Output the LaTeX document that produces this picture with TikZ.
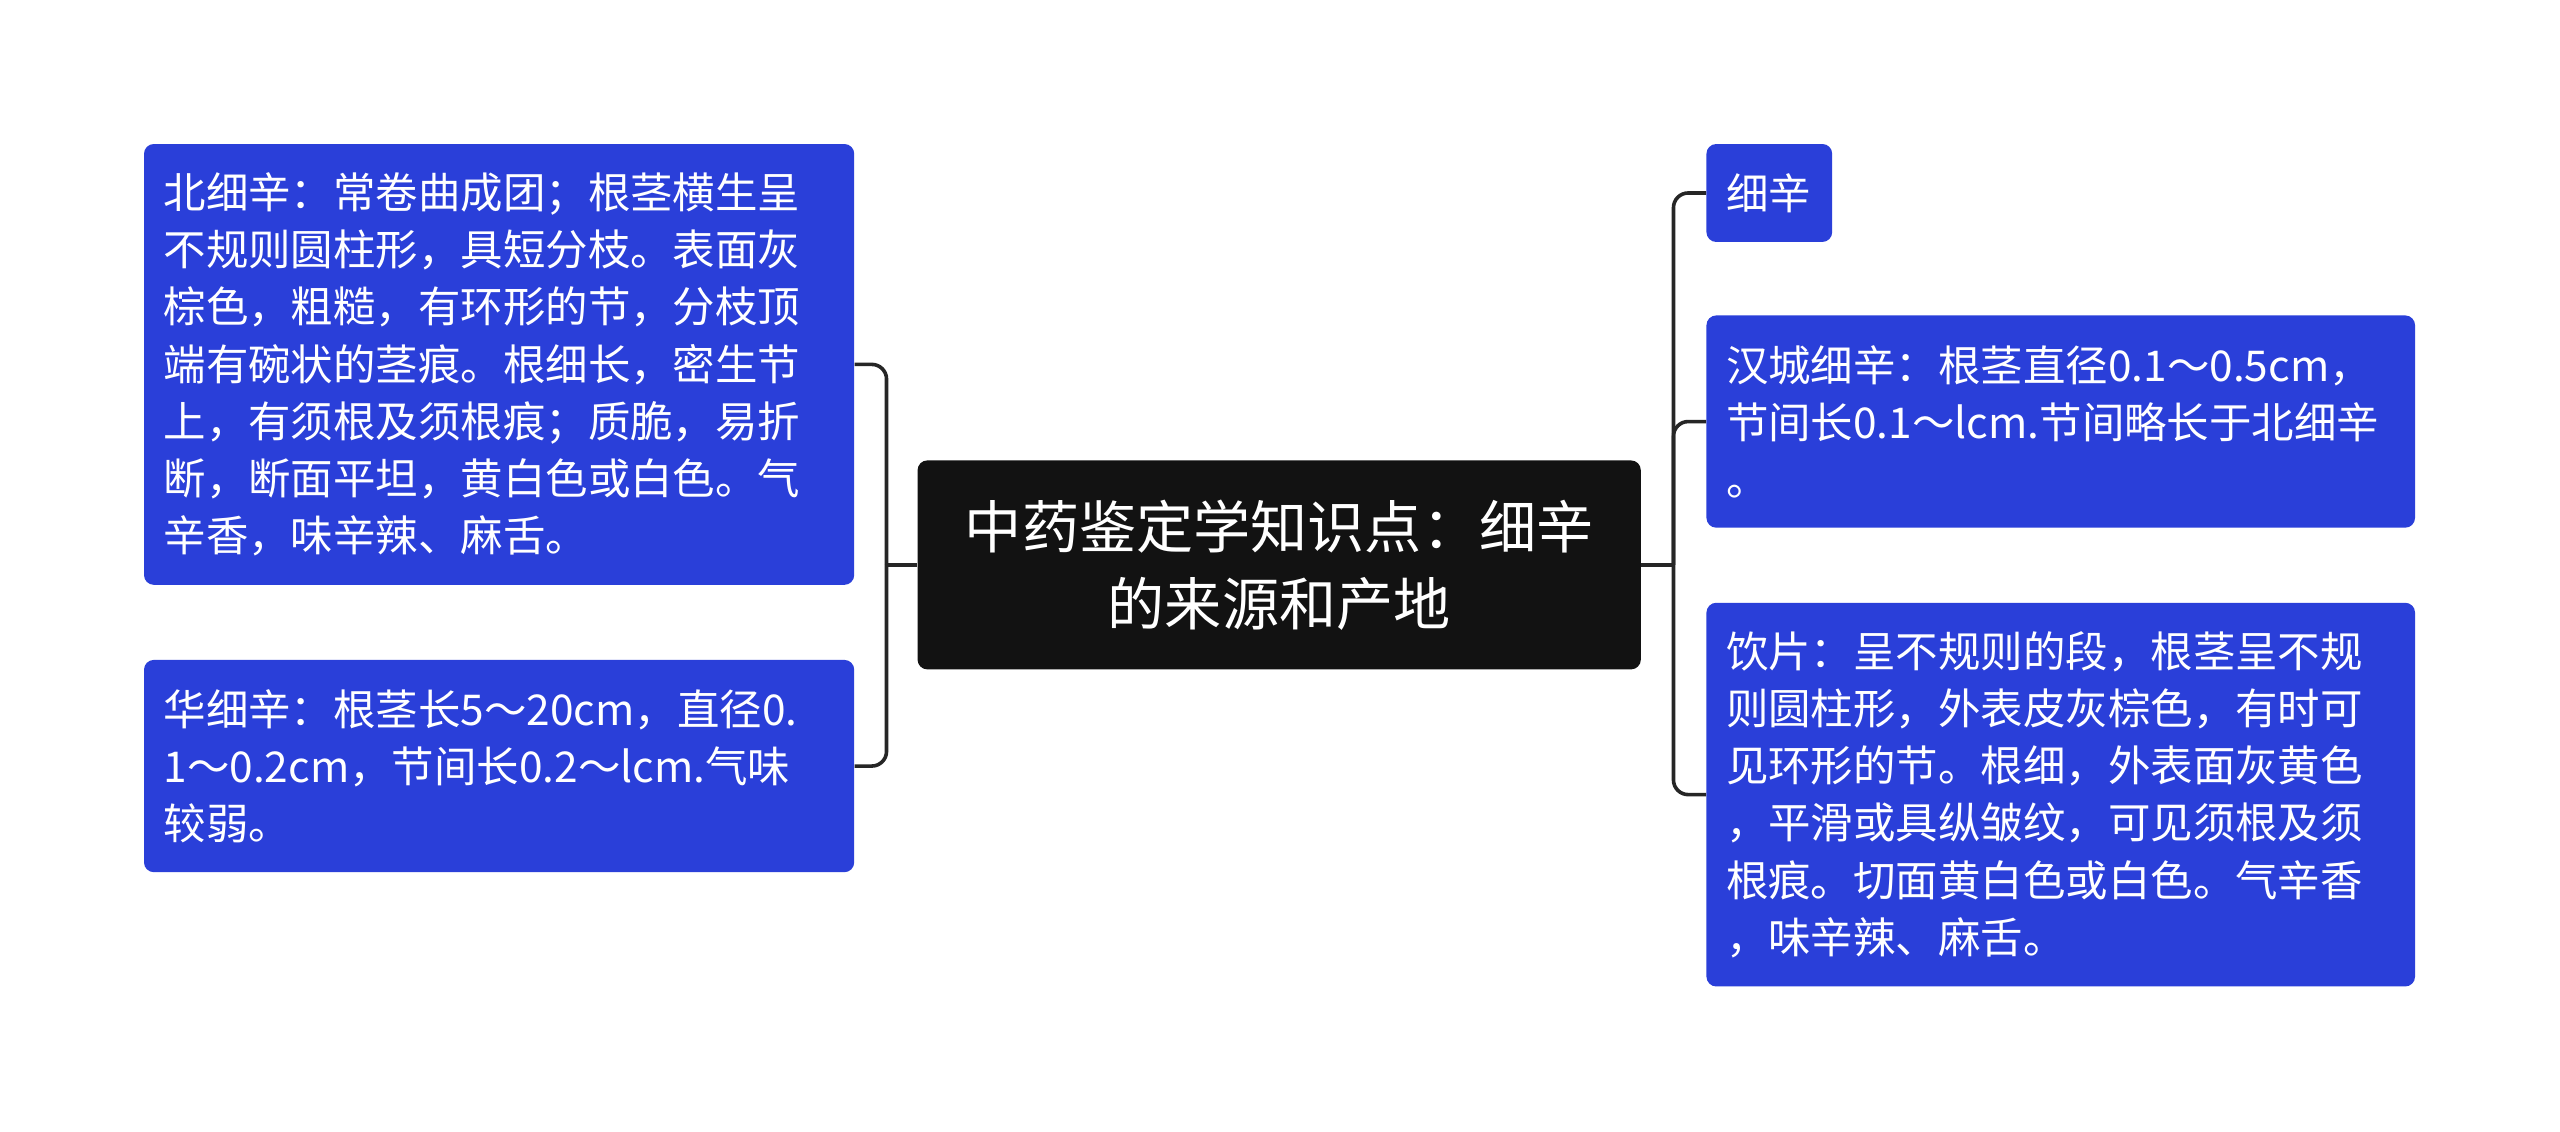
\documentclass[tikz,border=0pt]{standalone}
\usepackage{fontspec}
\setmainfont{Noto Sans CJK SC}
\begin{document}
\begin{tikzpicture}[x=1pt,y=-1pt,
  leaf/.style={draw=none,fill=leafblue,rounded corners=6pt,text=white,align=left,anchor=north west,inner sep=0pt,font=\fontsize{26}{35}\selectfont},
  conn/.style={draw=black!85,line width=2.2pt,rounded corners=9pt}]
\definecolor{leafblue}{HTML}{2A3FD9}
\useasboundingbox (0,0) rectangle (1568,693);
\fill[white] (0,0) rectangle (1568,693);
\node[leaf,minimum width=435pt,minimum height=270pt,text width=411pt] (l1) at (88,88) {北细辛：常卷曲成团；根茎横生呈\\不规则圆柱形，具短分枝。表面灰\\棕色，粗糙，有环形的节，分枝顶\\端有碗状的茎痕。根细长，密生节\\上，有须根及须根痕；质脆，易折\\断，断面平坦，黄白色或白色。气\\辛香，味辛辣、麻舌。};
\node[leaf,minimum width=435pt,minimum height=130pt,text width=411pt] (l2) at (88,404) {华细辛：根茎长5～20cm，直径0.\\1～0.2cm，节间长0.2～lcm.气味\\较弱。};
\node[fill=black!93,rounded corners=6pt,text=white,align=center,minimum width=443pt,minimum height=128pt,inner sep=0pt,font=\fontsize{35}{47}\selectfont] (c) at (783.5,346) {中药鉴定学知识点：细辛\\的来源和产地};
\node[leaf,minimum width=77pt,minimum height=60pt,text width=53pt] (r1) at (1045,88) {细辛};
\node[leaf,minimum width=434pt,minimum height=130pt,text width=410pt] (r2) at (1045,193) {汉城细辛：根茎直径0.1～0.5cm，\\节间长0.1～lcm.节间略长于北细辛\\。};
\node[leaf,minimum width=434pt,minimum height=235pt,text width=410pt] (r3) at (1045,369) {饮片：呈不规则的段，根茎呈不规\\则圆柱形，外表皮灰棕色，有时可\\见环形的节。根细，外表面灰黄色\\，平滑或具纵皱纹，可见须根及须\\根痕。切面黄白色或白色。气辛香\\，味辛辣、麻舌。};
\coordinate (lj) at (543,346);
\coordinate (rj) at (1025,346);
\draw[conn] (c.west) -- (lj);
\draw[conn] (lj) |- (l1.east);
\draw[conn] (lj) |- (l2.east);
\draw[conn] (c.east) -- (rj);
\draw[conn] (rj) |- (r1.west);
\draw[conn] (rj) |- (r2.west);
\draw[conn] (rj) |- (r3.west);
\end{tikzpicture}
\end{document}
